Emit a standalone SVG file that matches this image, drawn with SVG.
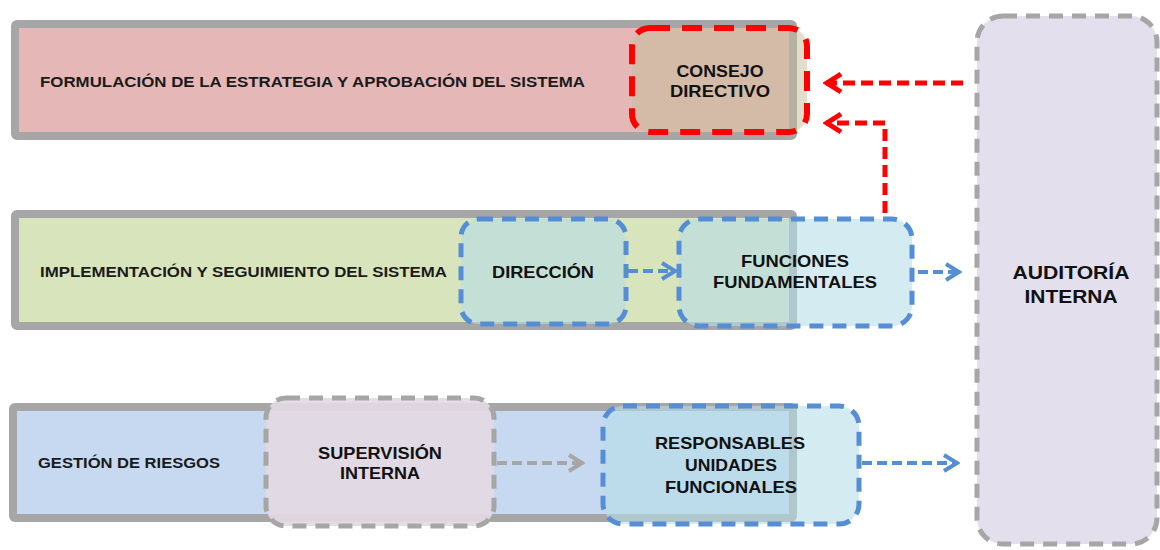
<svg xmlns="http://www.w3.org/2000/svg" width="1160" height="550" viewBox="0 0 1160 550">
<style>
.band{stroke:#a6a6a6;stroke-width:8}
.bl{font-family:"Liberation Sans",Arial,sans-serif;font-weight:bold;font-size:14px;fill:#1a1a1a}
.nt{font-family:"Liberation Sans",Arial,sans-serif;font-weight:bold;font-size:16.5px;fill:#111;text-anchor:middle}
.red{stroke:#ff0000;stroke-width:6;stroke-dasharray:20 12;fill:#c4bd97;fill-opacity:0.5}
.blue{stroke:#558ed5;stroke-width:5;stroke-dasharray:14 9;fill:#b7dde8;fill-opacity:0.6}
.gray{stroke:#a6a6a6;stroke-width:5;stroke-dasharray:14 9}
.c{fill:none;stroke-width:4;stroke-dasharray:10 5}
.cr{fill:none;stroke:#ff0000;stroke-width:5;stroke-dasharray:12 6}
</style>
<defs>
<marker id="ar" viewBox="0 0 24 24" refX="21" refY="12" markerWidth="24" markerHeight="24" markerUnits="userSpaceOnUse" orient="auto"><polyline points="6,3 20,12 6,21" fill="none" stroke="#ff0000" stroke-width="5"/></marker>
<marker id="ab" viewBox="0 0 20 20" refX="18" refY="10" markerWidth="20" markerHeight="20" markerUnits="userSpaceOnUse" orient="auto"><polyline points="4,2 17,10 4,18" fill="none" stroke="#558ed5" stroke-width="4"/></marker>
<marker id="ag" viewBox="0 0 20 20" refX="18" refY="10" markerWidth="20" markerHeight="20" markerUnits="userSpaceOnUse" orient="auto"><polyline points="4,2 17,10 4,18" fill="none" stroke="#a6a6a6" stroke-width="4"/></marker>
</defs>
<rect width="1160" height="550" fill="#fff"/>
<g id="band1"><rect class="band" x="15" y="24" width="778" height="112" rx="2" fill="#e5b8b7"/><text class="bl" x="40" y="87" textLength="545" lengthAdjust="spacingAndGlyphs">FORMULACIÓN DE LA ESTRATEGIA Y APROBACIÓN DEL SISTEMA</text></g>
<g id="band2"><rect class="band" x="15" y="214" width="778" height="112" rx="2" fill="#d8e4bc"/><text class="bl" x="40" y="277" textLength="407" lengthAdjust="spacingAndGlyphs">IMPLEMENTACIÓN Y SEGUIMIENTO DEL SISTEMA</text></g>
<g id="band3"><rect class="band" x="13" y="407" width="780" height="111" rx="2" fill="#c6d9f0"/><text class="bl" x="38" y="468" textLength="182" lengthAdjust="spacingAndGlyphs">GESTIÓN DE RIESGOS</text></g>
<g id="consejo"><rect class="red" x="632" y="28" width="175" height="104" rx="18"/><text class="nt" x="720" y="77" textLength="87" lengthAdjust="spacingAndGlyphs">CONSEJO</text><text class="nt" x="720" y="97" textLength="100" lengthAdjust="spacingAndGlyphs">DIRECTIVO</text></g>
<g id="direccion"><rect class="blue" x="461" y="219" width="165" height="105" rx="18"/><text class="nt" x="543" y="278" textLength="102" lengthAdjust="spacingAndGlyphs">DIRECCIÓN</text></g>
<g id="funciones"><rect class="blue" x="679" y="219" width="233" height="107" rx="20"/><text class="nt" x="795" y="267" textLength="108" lengthAdjust="spacingAndGlyphs">FUNCIONES</text><text class="nt" x="795" y="288" textLength="164" lengthAdjust="spacingAndGlyphs">FUNDAMENTALES</text></g>
<g id="supervision"><rect class="gray" x="266" y="398" width="228" height="128" rx="20" fill="#e3d9e3" fill-opacity="0.92"/><text class="nt" x="380" y="459" textLength="124" lengthAdjust="spacingAndGlyphs">SUPERVISIÓN</text><text class="nt" x="380" y="479" textLength="80" lengthAdjust="spacingAndGlyphs">INTERNA</text></g>
<g id="responsables"><rect class="blue" x="603" y="406" width="256" height="118" rx="20"/><text class="nt" x="730" y="449" textLength="150" lengthAdjust="spacingAndGlyphs">RESPONSABLES</text><text class="nt" x="731" y="471" textLength="92" lengthAdjust="spacingAndGlyphs">UNIDADES</text><text class="nt" x="731" y="493" textLength="132" lengthAdjust="spacingAndGlyphs">FUNCIONALES</text></g>
<g id="auditoria"><rect class="gray" x="977" y="16" width="180" height="528" rx="26" fill="#e4dfec"/><text class="nt" x="1071" y="279" style="font-size:19px" textLength="117" lengthAdjust="spacingAndGlyphs">AUDITORÍA</text><text class="nt" x="1071" y="303" style="font-size:19px" textLength="93" lengthAdjust="spacingAndGlyphs">INTERNA</text></g>
<g id="connectors">
<path class="cr" d="M963,83 H826" marker-end="url(#ar)"/>
<path class="cr" d="M885,213 V123 H826" marker-end="url(#ar)"/>
<path class="c" d="M628,271 H676" stroke="#558ed5" marker-end="url(#ab)"/>
<path class="c" d="M918,272 H960" stroke="#558ed5" marker-end="url(#ab)"/>
<path class="c" d="M497,463 H583" stroke="#a6a6a6" marker-end="url(#ag)"/>
<path class="c" d="M862,463 H958" stroke="#558ed5" marker-end="url(#ab)"/>
</g>
</svg>
